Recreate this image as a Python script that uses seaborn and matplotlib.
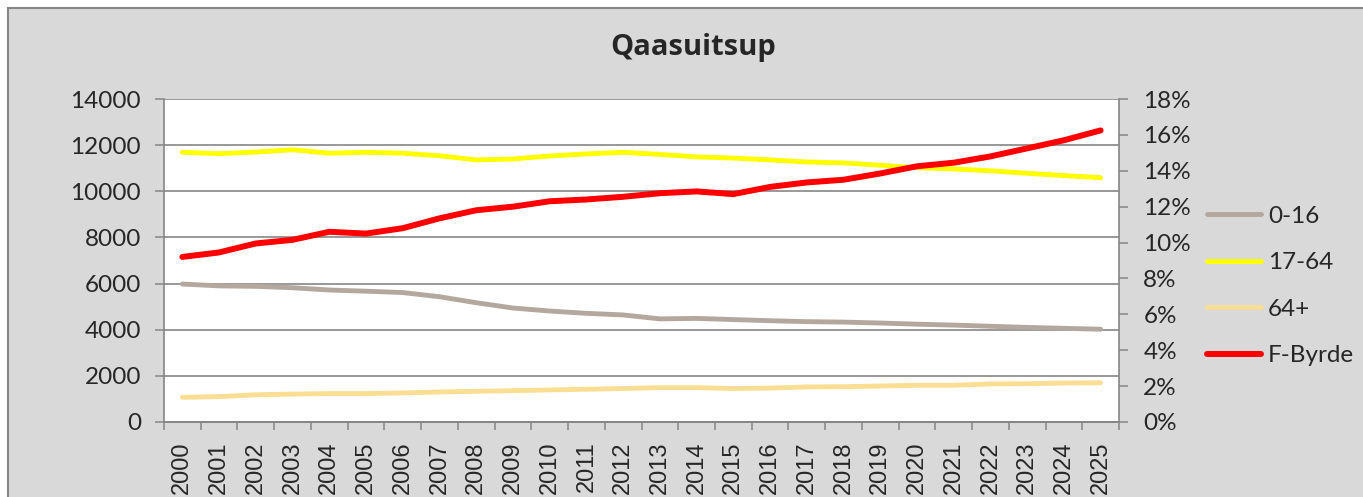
import numpy as np
import pandas as pd
import matplotlib
matplotlib.use('Agg')
import matplotlib.pyplot as plt
from matplotlib.patches import Rectangle
from matplotlib.ticker import FixedLocator, FuncFormatter, NullFormatter
import seaborn as sns

# ============================================================
# DATA
# ============================================================
years = list(range(2000, 2026))

age_0_16 = [5980, 5900, 5880, 5820, 5720, 5670, 5610, 5430, 5170, 4940,
            4810, 4710, 4640, 4470, 4490, 4440, 4390, 4350, 4330, 4290,
            4240, 4200, 4150, 4100, 4060, 4020]
age_17_64 = [11690, 11630, 11700, 11800, 11650, 11690, 11650, 11540, 11360, 11400,
             11530, 11620, 11690, 11600, 11490, 11440, 11360, 11270, 11230, 11130,
             11020, 10970, 10890, 10780, 10680, 10590]
age_64_plus = [1070, 1100, 1180, 1210, 1230, 1230, 1260, 1300, 1330, 1360,
               1390, 1420, 1450, 1490, 1490, 1450, 1470, 1520, 1530, 1560,
               1590, 1590, 1650, 1660, 1690, 1700]
f_byrde = [9.2, 9.45, 9.95, 10.15, 10.6, 10.5, 10.8, 11.35, 11.8, 12.0,
           12.3, 12.4, 12.55, 12.75, 12.85, 12.7, 13.1, 13.35, 13.5, 13.85,
           14.25, 14.45, 14.8, 15.25, 15.7, 16.25]

series_names = ['0-16', '17-64', '64+']
series_colors = ['#B4A79E', '#FFFF00', '#FADE94']
byrde_color = '#FF0000'

left_ticks = list(range(0, 14001, 2000))
right_ticks = list(range(0, 19, 2))

df = pd.DataFrame({'year': years, '0-16': age_0_16,
                   '17-64': age_17_64, '64+': age_64_plus})
long_df = df.melt(id_vars='year', var_name='group', value_name='value')
byrde_df = pd.DataFrame({'year': years, 'F-Byrde': f_byrde})

# ============================================================
# STYLE
# ============================================================
sns.set_theme(style='white')
plt.rcParams['font.family'] = ['Lato', 'DejaVu Sans']

GRID = '#868686'
BG = '#D9D9D9'
W, H = 1363, 497

fig = plt.figure(figsize=(W / 100, H / 100), dpi=100, facecolor='white')
fig.patches.append(Rectangle((8 / W, -0.1), 2, 1 - 8 / H + 0.1,
                             transform=fig.transFigure, facecolor=BG,
                             edgecolor=GRID, lw=1.5, zorder=-10))

ax = fig.add_axes([164 / W, 1 - 422 / H, (1119 - 164) / W, (422 - 99) / H])
ax.set_facecolor('white')
ax2 = ax.twinx()

sns.lineplot(data=long_df, x='year', y='value', hue='group',
             hue_order=series_names, palette=series_colors,
             lw=3.5, ax=ax, legend=False, solid_capstyle='round')
sns.lineplot(data=byrde_df, x='year', y='F-Byrde', color=byrde_color,
             lw=4.3, ax=ax2, legend=False, solid_capstyle='round')

# left axis
ax.set_ylim(0, 14000)
ax.set_yticks(left_ticks)
ax.yaxis.grid(True, color=GRID, lw=1.2)
ax.set_axisbelow(True)
ax.tick_params(axis='y', length=6.5, width=1.1, color=GRID, pad=10,
               labelsize=17.5, left=True)

# x axis: ticks between categories, labels at centers
ax.set_xlim(years[0] - 0.5, years[-1] + 0.5)
ax.xaxis.set_major_locator(FixedLocator(np.arange(years[0] - 0.5, years[-1] + 1)))
ax.xaxis.set_major_formatter(NullFormatter())
ax.xaxis.set_minor_locator(FixedLocator(years))
ax.xaxis.set_minor_formatter(FuncFormatter(lambda v, p: f'{int(round(v))}'))
ax.tick_params(axis='x', which='major', length=6, width=1.1, color=GRID, bottom=True)
ax.tick_params(axis='x', which='minor', length=0, pad=14, labelsize=17,
               labelrotation=90, bottom=True)
for lab in ax.get_xticklabels(minor=True):
    lab.set_family(['Liberation Sans', 'DejaVu Sans'])
ax.set_xlabel('')
ax.set_ylabel('')

# right axis
ax2.set_ylim(0, 18)
ax2.set_yticks(right_ticks)
ax2.yaxis.set_major_formatter(FuncFormatter(lambda v, p: f'{int(v)}%'))
ax2.grid(False)
ax2.tick_params(axis='y', length=6.5, width=1.1, color=GRID, pad=11,
                labelsize=17.5, right=True)
ax2.set_ylabel('')

for a in (ax, ax2):
    for side in ('left', 'right', 'bottom'):
        a.spines[side].set_color(GRID)
        a.spines[side].set_linewidth(1.2)
    a.spines['top'].set_visible(False)
ax2.spines['left'].set_visible(False)
ax.spines['right'].set_visible(False)

fig.text(693 / W, 1 - 48 / H, 'Qaasuitsup', ha='center', va='center',
         fontsize=21, fontweight='bold', family=['Open Sans', 'DejaVu Sans'])

# legend
handles = ax.get_lines()[:3] + ax2.get_lines()[:1]
labels = series_names + ['F-Byrde']
leg = fig.legend(handles, labels, loc='center left',
                 bbox_to_anchor=(1195 / W, 1 - 286 / H), frameon=False,
                 fontsize=17.5, handlelength=2.2, handletextpad=0.3,
                 labelspacing=1.05, borderpad=0)

fig.savefig('out.png', dpi=100, facecolor=fig.get_facecolor())
